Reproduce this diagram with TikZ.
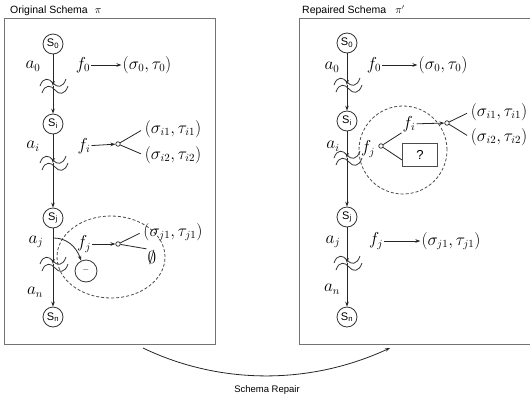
\documentclass[tikz,border=0pt]{standalone}
\usepackage{fontspec}
\setsansfont{Liberation Sans}
\usetikzlibrary{arrows.meta,shapes.geometric}
\tikzset{
  ln/.style={line width=0.8pt,draw=black!85},
  arr/.style={ln,-{Stealth[length=5pt,width=3.6pt]}},
  frame/.style={draw=black!55,line width=0.8pt},
  st/.style={circle,draw=black!80,line width=0.8pt,minimum size=20pt,inner sep=0pt,font=\sffamily\fontsize{11}{12}\selectfont},
  mth/.style={inner sep=1pt,font=\fontsize{16}{18}\selectfont},
  lbl/.style={inner sep=0pt,font=\sffamily\fontsize{10.5}{12}\selectfont},
  knot/.style={circle,draw=black!85,line width=0.7pt,fill=white,minimum size=4.5pt,inner sep=0pt},
  dsh/.style={draw=black!70,line width=0.8pt,dash pattern=on 3pt off 2pt},
  wavy/.style={line width=0.8pt,draw=black!80},
  brk/.pic={
    \draw[wavy] (-13,0) .. controls (-10,-9) and (-4,-8) .. (0,-3) .. controls (4,2) and (10,2) .. (13,-7);
    \draw[wavy] (-11,7) .. controls (-8,-2) and (-2,-1) .. (2,4) .. controls (6,9) and (12,9) .. (15,0);
  }
}
\begin{document}
\begin{tikzpicture}[x=1pt,y=-1pt]
\useasboundingbox (0,0) rectangle (530,397);
% frames and titles
\draw[frame] (4,18) rectangle (215,344);
\draw[frame] (299,18) rectangle (534,344);
\node[lbl,anchor=base west] (T1) at (10,13) {Original Schema\hspace{7pt}$\pi$};
\node[lbl,anchor=base west] (T2) at (302,13) {Repaired Schema\hspace{9pt}$\pi'$};

% ---------- left panel ----------
\node[dsh,ellipse,minimum width=108pt,minimum height=82pt] (Lell) at (111,257) {};
\node[st] (L0) at (53,44) {S\textsubscript{0}};
\coordinate (Lw0) at (53,86);
\node[st] (Li) at (53,124) {S\textsubscript{i}};
\coordinate (Lwi) at (53,163);
\node[st] (Lj) at (53,218) {S\textsubscript{j}};
\coordinate (Lwj) at (53,264);
\node[st] (Ln) at (53,317) {S\textsubscript{n}};
\draw[arr] (L0) -- (Lw0);
\draw[arr] (Lw0) -- (Li);
\draw[arr] (Li) -- (Lwi);
\draw[arr] (Lwi) -- (Lj);
\draw[arr] (Lj) -- (Lwj);
\draw[arr] (Lwj) -- (Ln);
\pic at (Lw0) {brk};
\pic at (Lwi) {brk};
\pic at (Lwj) {brk};
\node[mth] (La0) at (33,66) {$a_0$};
\node[mth] (Lai) at (33,146) {$a_i$};
\node[mth] (Laj) at (36,242) {$a_j$};
\node[mth] (Lan) at (35,292) {$a_n$};

\node[mth] (Lf0) at (83,65) {$f_0$};
\node[mth] (Lt0) at (147,65) {$(\sigma_0,\tau_0)$};
\draw[arr] (Lf0) -- (Lt0);

\node[mth] (Lfi) at (84,146) {$f_i$};
\node[knot] (Lki) at (118,144) {};
\node[mth] (Lti1) at (173,129) {$(\sigma_{i1},\tau_{i1})$};
\node[mth] (Lti2) at (173,155) {$(\sigma_{i2},\tau_{i2})$};
\draw[arr] (Lfi) -- (Lki);
\draw[ln,shorten >=3pt] (Lki) -- (Lti1.west);
\draw[ln,shorten >=3pt] (Lki) -- (Lti2.west);

\node[mth] (Lfj) at (84,244) {$f_j$};
\node[knot] (Lkj) at (118,244) {};
\node[mth] (Ltj1) at (173,232) {$(\sigma_{j1},\tau_{j1})$};
\node[mth] (Lemp) at (152,257) {$\emptyset$};
\draw[arr] (Lfj) -- (Lkj);
\draw[ln,shorten >=3pt] (Lkj) -- (Ltj1.west);
\draw[ln] (Lkj) -- (Lemp.north west);

\node[circle,draw=black!80,line width=0.8pt,minimum size=22pt,inner sep=0pt,font=\sffamily\fontsize{9}{10}\selectfont,text=black!60] (Lminus) at (86,271) {--};
\coordinate (Lbj) at (54,238);
\draw[arr] (Lbj) .. controls (66,238) and (76,246) .. (Lminus.115);

% ---------- right panel ----------
\node[dsh,circle,minimum size=88pt] (Rcirc) at (403,150) {};
\node[st] (R0) at (347,43) {S\textsubscript{0}};
\coordinate (Rw0) at (347,85);
\node[st] (Ri) at (347,121) {S\textsubscript{i}};
\coordinate (Rwi) at (347,158);
\node[st] (Rj) at (347,217) {S\textsubscript{j}};
\coordinate (Rwj) at (347,263);
\node[st] (Rn) at (347,317) {S\textsubscript{n}};
\draw[arr] (R0) -- (Rw0);
\draw[arr] (Rw0) -- (Ri);
\draw[arr] (Ri) -- (Rwi);
\draw[arr] (Rwi) -- (Rj);
\draw[arr] (Rj) -- (Rwj);
\draw[arr] (Rwj) -- (Rn);
\pic at (Rw0) {brk};
\pic at (Rwi) {brk};
\pic at (Rwj) {brk};
\node[mth] (Ra0) at (332,67) {$a_0$};
\node[mth] (Rai) at (333,146) {$a_i$};
\node[mth] (Raj) at (333,242) {$a_j$};
\node[mth] (Ran) at (332,289) {$a_n$};

\node[mth] (Rf0) at (374,65) {$f_0$};
\node[mth] (Rt0) at (443,65) {$(\sigma_0,\tau_0)$};
\draw[arr] (Rf0) -- (Rt0);

\node[mth] (Rfi) at (409,124) {$f_i$};
\node[knot] (Rki) at (447,123) {};
\node[mth] (Rti1) at (499,112) {$(\sigma_{i1},\tau_{i1})$};
\node[mth] (Rti2) at (499,137) {$(\sigma_{i2},\tau_{i2})$};
\draw[arr] (Rfi) -- (Rki);
\draw[ln,shorten >=3pt] (Rki) -- (Rti1.west);
\draw[ln,shorten >=3pt] (Rki) -- (Rti2.west);

\node[mth] (Rfj) at (368,149) {$f_j$};
\node[knot] (Rkj) at (381,146) {};
\node[draw=black!70,line width=0.8pt,minimum width=35pt,minimum height=23pt,inner sep=0pt,font=\sffamily\fontsize{13}{14}\selectfont] (Rq) at (420,155) {?};
\draw[ln] (Rkj) -- (Rfi.south west);
\draw[ln] (Rkj) -- ([yshift=-5pt]Rq.west);

\node[mth] (Rfj2) at (376,241) {$f_j$};
\node[mth] (Rtj1) at (451,241) {$(\sigma_{j1},\tau_{j1})$};
\draw[arr] (Rfj2) -- (Rtj1);

% ---------- repair arrow ----------
\coordinate (Ra) at (143,348);
\coordinate (Rb) at (390,348);
\draw[arr] (Ra) .. controls (220,385) and (310,385) .. (Rb);
\node[lbl,font=\sffamily\fontsize{9.5}{11}\selectfont,anchor=base] (Rep) at (267,392) {Schema Repair};
\end{tikzpicture}
\end{document}
